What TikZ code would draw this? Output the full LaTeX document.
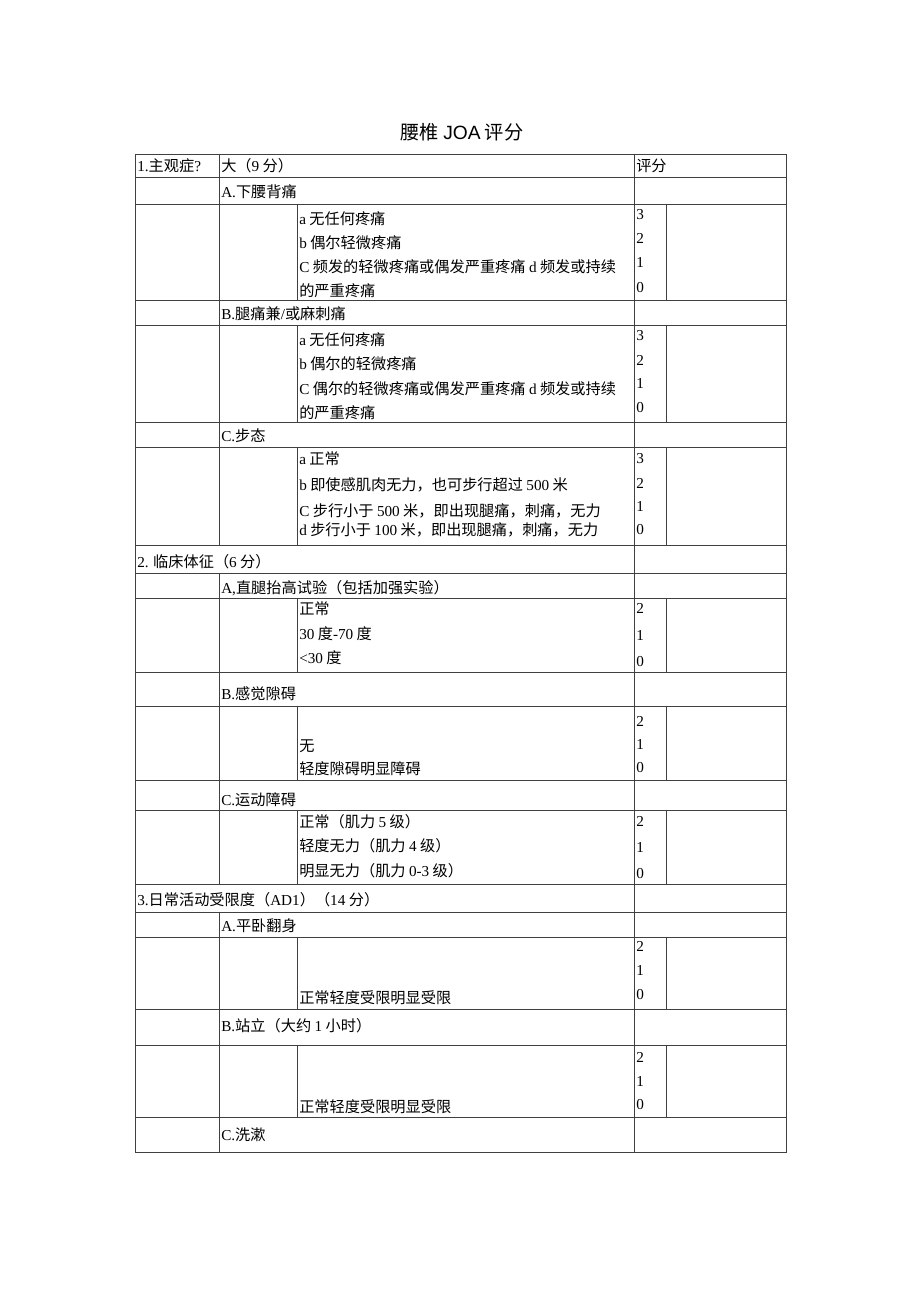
\documentclass[tikz,border=0pt]{standalone}
\usepackage{fontspec}
\setmainfont{Noto Sans CJK SC}
\newfontfamily\serifl{Liberation Serif}
\newfontfamily\sansl{Liberation Sans}
\newcommand{\ltn}[1]{{\serifl #1}}
\tikzset{
    rule/.style={draw=black!75, line width=0.6pt}, % table lines
    cell/.style={anchor=west, inner sep=0pt, text height=9.7pt, text depth=1.4pt,
        font=\fontsize{11.4pt}{13pt}\selectfont}, % text in a cell
    headline/.style={inner sep=0pt, font=\fontsize{14.4pt}{16pt}\selectfont},
}

\begin{document}
\begin{tikzpicture}[x=0.75pt, y=-0.75pt]
        \useasboundingbox (0, 0) rectangle (920, 1301);
        \node[headline] (title) at (462, 132) {腰椎 {\sansl JOA} 评分};
        % frame and full rows
        \draw[rule] (135, 154) rectangle (786, 1152);
        \draw[rule] (135, 177) -- (786, 177);
        \draw[rule] (135, 204) -- (786, 204);
        \draw[rule] (135, 300) -- (786, 300);
        \draw[rule] (135, 325) -- (786, 325);
        \draw[rule] (135, 422) -- (786, 422);
        \draw[rule] (135, 447) -- (786, 447);
        \draw[rule] (135, 545) -- (786, 545);
        \draw[rule] (135, 573) -- (786, 573);
        \draw[rule] (135, 598) -- (786, 598);
        \draw[rule] (135, 672) -- (786, 672);
        \draw[rule] (135, 706) -- (786, 706);
        \draw[rule] (135, 780) -- (786, 780);
        \draw[rule] (135, 810) -- (786, 810);
        \draw[rule] (135, 884) -- (786, 884);
        \draw[rule] (135, 912) -- (786, 912);
        \draw[rule] (135, 937) -- (786, 937);
        \draw[rule] (135, 1009) -- (786, 1009);
        \draw[rule] (135, 1045) -- (786, 1045);
        \draw[rule] (135, 1117) -- (786, 1117);
        % columns
        \draw[rule] (634, 154) -- (634, 1152);
        \draw[rule] (219, 154) -- (219, 545);
        \draw[rule] (219, 573) -- (219, 884);
        \draw[rule] (219, 912) -- (219, 1152);
        \draw[rule] (297, 204) -- (297, 300);   \draw[rule] (666, 204) -- (666, 300);
        \draw[rule] (297, 325) -- (297, 422);   \draw[rule] (666, 325) -- (666, 422);
        \draw[rule] (297, 447) -- (297, 545);   \draw[rule] (666, 447) -- (666, 545);
        \draw[rule] (297, 598) -- (297, 672);   \draw[rule] (666, 598) -- (666, 672);
        \draw[rule] (297, 706) -- (297, 780);   \draw[rule] (666, 706) -- (666, 780);
        \draw[rule] (297, 810) -- (297, 884);   \draw[rule] (666, 810) -- (666, 884);
        \draw[rule] (297, 937) -- (297, 1009);  \draw[rule] (666, 937) -- (666, 1009);
        \draw[rule] (297, 1045) -- (297, 1117); \draw[rule] (666, 1045) -- (666, 1117);
        % header
        \node[cell] (sub) at (137, 166) {\ltn{1.}主观症\ltn{?}};
        \node[cell] (subpts) at (221, 166) {大（\ltn{9} 分）};
        \node[cell] (score) at (636, 166) {评分};
        % 1A
        \node[cell] (backpain) at (221, 192) {\ltn{A.}下腰背痛};
        \node[cell] (bpa) at (299, 219) {\ltn{a} 无任何疼痛};
        \node[cell] (bpb) at (299, 243) {\ltn{b} 偶尔轻微疼痛};
        \node[cell] (bpc) at (299, 267) {\ltn{C} 频发的轻微疼痛或偶发严重疼痛 \ltn{d} 频发或持续};
        \node[cell] (bpd) at (299, 291) {的严重疼痛};
        \node[cell] (bp3) at (636, 214) {\ltn{3}};
        \node[cell] (bp2) at (636, 238) {\ltn{2}};
        \node[cell] (bp1) at (636, 262) {\ltn{1}};
        \node[cell] (bp0) at (636, 287) {\ltn{0}};
        % 1B
        \node[cell] (legpain) at (221, 314) {\ltn{B.}腿痛兼\ltn{/}或麻刺痛};
        \node[cell] (lpa) at (299, 340) {\ltn{a} 无任何疼痛};
        \node[cell] (lpb) at (299, 364) {\ltn{b} 偶尔的轻微疼痛};
        \node[cell] (lpc) at (299, 389) {\ltn{C} 偶尔的轻微疼痛或偶发严重疼痛 \ltn{d} 频发或持续};
        \node[cell] (lpd) at (299, 413) {的严重疼痛};
        \node[cell] (lp3) at (636, 335) {\ltn{3}};
        \node[cell] (lp2) at (636, 360) {\ltn{2}};
        \node[cell] (lp1) at (636, 383) {\ltn{1}};
        \node[cell] (lp0) at (636, 407) {\ltn{0}};
        % 1C
        \node[cell] (gait) at (221, 436) {\ltn{C.}步态};
        \node[cell] (gta) at (299, 459) {\ltn{a} 正常};
        \node[cell] (gtb) at (299, 485) {\ltn{b} 即使感肌肉无力，也可步行超过 \ltn{500} 米};
        \node[cell] (gtc) at (299, 511) {\ltn{C} 步行小于 \ltn{500} 米，即出现腿痛，刺痛，无力};
        \node[cell] (gtd) at (299, 530) {\ltn{d} 步行小于 \ltn{100} 米，即出现腿痛，刺痛，无力};
        \node[cell] (gt3) at (636, 458) {\ltn{3}};
        \node[cell] (gt2) at (636, 483) {\ltn{2}};
        \node[cell] (gt1) at (636, 506) {\ltn{1}};
        \node[cell] (gt0) at (636, 529) {\ltn{0}};
        % 2
        \node[cell] (clin) at (137, 562) {\ltn{2.} 临床体征（\ltn{6} 分）};
        \node[cell] (slr) at (221, 588) {\ltn{A,}直腿抬高试验（包括加强实验）};
        \node[cell] (slra) at (299, 609) {正常};
        \node[cell] (slrb) at (299, 634) {\ltn{30} 度\ltn{-70} 度};
        \node[cell] (slrc) at (299, 658) {\ltn{<30} 度};
        \node[cell] (slr2) at (636, 608) {\ltn{2}};
        \node[cell] (slr1) at (636, 635) {\ltn{1}};
        \node[cell] (slr0) at (636, 661) {\ltn{0}};
        \node[cell] (sens) at (221, 694) {\ltn{B.}感觉隙碍};
        \node[cell] (sensa) at (299, 746) {无};
        \node[cell] (sensb) at (299, 769) {轻度隙碍明显障碍};
        \node[cell] (sens2) at (636, 721) {\ltn{2}};
        \node[cell] (sens1) at (636, 744) {\ltn{1}};
        \node[cell] (sens0) at (636, 767) {\ltn{0}};
        \node[cell] (motor) at (221, 800) {\ltn{C.}运动障碍};
        \node[cell] (mota) at (299, 822) {正常（肌力 \ltn{5} 级）};
        \node[cell] (motb) at (299, 846) {轻度无力（肌力 \ltn{4} 级）};
        \node[cell] (motc) at (299, 871) {明显无力（肌力 \ltn{0-3} 级）};
        \node[cell] (mot2) at (636, 821) {\ltn{2}};
        \node[cell] (mot1) at (636, 847) {\ltn{1}};
        \node[cell] (mot0) at (636, 873) {\ltn{0}};
        % 3
        \node[cell] (adl) at (137, 900) {\ltn{3.}日常活动受限度（\ltn{AD1}）（\ltn{14} 分）};
        \node[cell] (turn) at (221, 926) {\ltn{A.}平卧翻身};
        \node[cell] (turna) at (299, 998) {正常轻度受限明显受限};
        \node[cell] (turn2) at (636, 946) {\ltn{2}};
        \node[cell] (turn1) at (636, 970) {\ltn{1}};
        \node[cell] (turn0) at (636, 994) {\ltn{0}};
        \node[cell] (stand) at (221, 1026) {\ltn{B.}站立（大约 \ltn{1} 小时）};
        \node[cell] (standa) at (299, 1107) {正常轻度受限明显受限};
        \node[cell] (stand2) at (636, 1057) {\ltn{2}};
        \node[cell] (stand1) at (636, 1081) {\ltn{1}};
        \node[cell] (stand0) at (636, 1104) {\ltn{0}};
        \node[cell] (wash) at (221, 1135) {\ltn{C.}洗漱};
    \end{tikzpicture}
\end{document}
